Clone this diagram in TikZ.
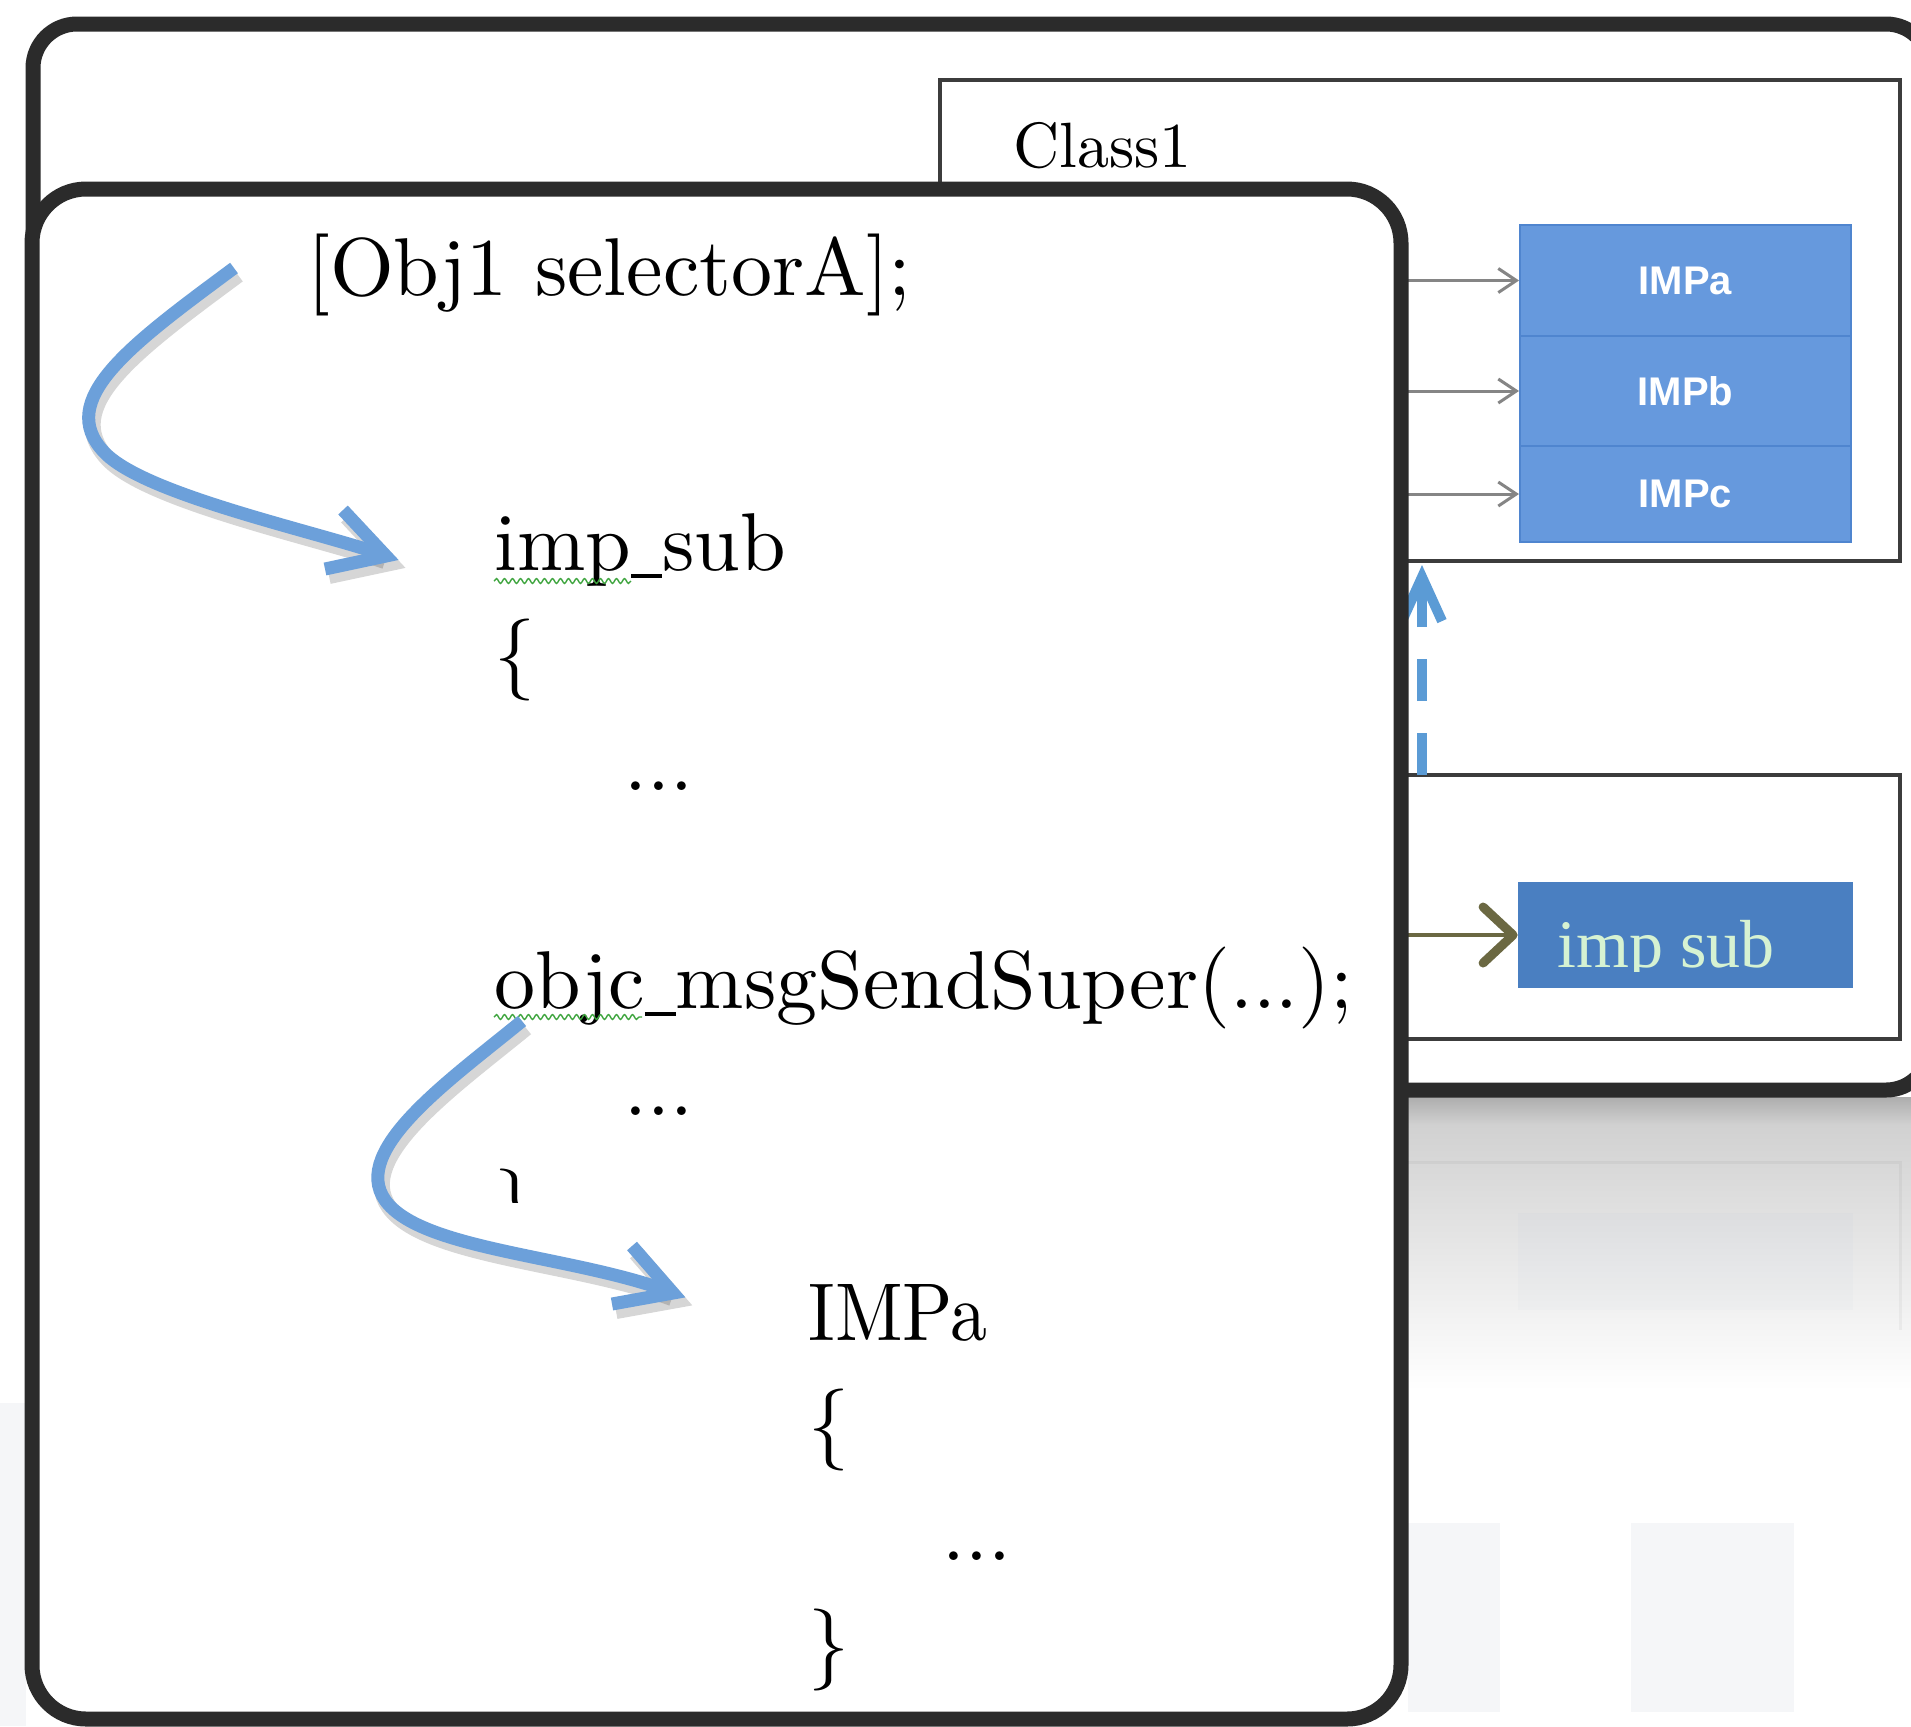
\documentclass[tikz,border=0pt]{standalone}
\usepackage{fontspec}
\newfontfamily\sansfam{Liberation Sans}
\newfontfamily\seriffam{Liberation Serif}
\newfontfamily\codefam{lmroman10-regular.otf}
\newfontfamily\codenarrow{lmroman10-regular.otf}[FakeStretch=0.9]
\newcommand\narrowus{\rule[-0.1em]{0.38em}{0.05em}}
\usetikzlibrary{arrows.meta,decorations.pathmorphing}
\definecolor{panelc}{HTML}{2B2B2B}
\definecolor{boxline}{HTML}{3C3C3C}
\definecolor{stackblue}{HTML}{6699DD}
\definecolor{stackline}{HTML}{4F85CF}
\definecolor{subblue}{HTML}{4A7FC1}
\definecolor{subtext}{HTML}{D6F2D2}
\definecolor{olivec}{HTML}{6B6842}
\definecolor{arrowblue}{HTML}{6CA0DA}
\definecolor{dashblue}{HTML}{5B9BD5}
\definecolor{grayarr}{HTML}{858585}
\definecolor{faintc}{HTML}{F5F6F8}
\definecolor{squigc}{HTML}{3FA53F}
\tikzset{
  panel/.style={draw=panelc, line width=7.5pt, fill=white},
  classbox/.style={draw=boxline, line width=1.75pt, fill=white, inner sep=0pt},
  rowbox/.style={fill=stackblue, draw=stackline, line width=1pt, text=white,
    font=\sansfam\bfseries\fontsize{20}{20}\selectfont, minimum width=165.5pt, inner sep=0pt},
  code/.style={anchor=base west, inner sep=0pt, font=\codefam\fontsize{41}{41}\selectfont},
  ptr/.style={draw=grayarr, line width=1.5pt, -{Straight Barb[length=9pt,width=12pt,line width=1.5pt]}},
  oliveptr/.style={draw=olivec, line width=1.75pt, -{Straight Barb[length=15pt,width=28pt,line width=4.5pt,round]}},
  superptr/.style={draw=dashblue, line width=5pt, dash pattern=on 21pt off 16pt,
    -{Straight Barb[length=22pt,width=20pt,line width=5pt]}},
  curarrow/.style={draw=arrowblue, line width=6.5pt},
  curshadow/.style={draw=black, opacity=0.16, line width=8pt},
  squig/.style={draw=squigc, line width=0.7pt, decorate, decoration={snake, amplitude=1.2pt, segment length=4pt}}
}
\begin{document}
\begin{tikzpicture}[x=0.5pt,y=-0.5pt]
\useasboundingbox (0,0) rectangle (1911,1726);
\begin{scope}
\clip (0,0) rectangle (1911,1726);
\fill[white] (0,0) rectangle (1911,1726);
% faint screenshot remnants
\fill[faintc] (0,1403) rectangle (26,1726);
\fill[faintc] (1408,1523) rectangle (1500,1712);
\fill[faintc] (1631,1523) rectangle (1794,1712);
% reflection under back panel
\shade[top color=black!32, bottom color=black!18] (1300,1097) rectangle (1911,1125);
\shade[top color=black!18, bottom color=white] (1300,1125) rectangle (1911,1390);
\draw[black, opacity=0.04, line width=1.5pt] (1300,1162) -- (1900,1162) -- (1900,1330);
\fill[subblue, opacity=0.025] (1518,1213) rectangle (1853,1310);
% back panel
\draw[panel, rounded corners=22pt] (33,24) rectangle (1930,1090);
% Class1 box
\node[classbox, minimum width=480pt, minimum height=240.5pt] (cls) at (1420,320.5) {};
\node[anchor=base west, inner sep=0pt, font=\codefam\fontsize{32}{32}\selectfont] (clsname) at (1013,167) {Class1};
% method stack
\node[rowbox, minimum height=55.5pt] (impa) at (1685.5,280.5) {IMPa};
\node[rowbox, minimum height=55pt] (impb) at (1685.5,391) {IMPb};
\node[rowbox, minimum height=48pt] (impc) at (1685.5,494) {IMPc};
\coordinate (pa) at (1395,280.5);
\coordinate (pb) at (1395,391);
\coordinate (pc) at (1395,494);
\draw[ptr] (pa) -- (impa.west);
\draw[ptr] (pb) -- (impb.west);
\draw[ptr] (pc) -- (impc.west);
% lower (superclass) box
\node[classbox, minimum width=300pt, minimum height=132pt] (subcls) at (1600,907) {};
\node[fill=subblue, minimum width=167.5pt, minimum height=53pt, inner sep=0pt] (impsub) at (1685.5,935) {};
\begin{scope}
\clip (1518,882) rectangle (1853,971);
\node[anchor=base west, inner sep=0pt, text=subtext, font=\seriffam\fontsize{34}{34}\selectfont] (impsubtxt) at (1557,967) {imp sub};
\end{scope}
\coordinate (po) at (1395,935);
\draw[oliveptr] (po) -- (impsub.west);
% dashed super pointer
\draw[superptr] (1422,775) -- (1422,565);
% front panel
\draw[panel, rounded corners=27pt] (32,189) rectangle (1401,1719);
% code text
\node[code] (sel) at (307,295) {[Obj1 selectorA];};
\node[code] (isub) at (494,570) {imp\narrowus sub};
\node[code] (br1) at (494,680) {\{};
\node[code] (dots1) at (624,790) {...};
\node[code] (msg) at (494,1008) {objc\narrowus msgSendSuper(...);};
\node[code] (dots2) at (624,1115) {...};
\begin{scope}
\clip (480,1150) rectangle (545,1202);
\node[code] (br2) at (494,1230) {\}};
\end{scope}
\node[code, font=\codenarrow\fontsize{41}{41}\selectfont] (impaf) at (808,1340) {IMPa};
\node[code] (br3) at (808,1450) {\{};
\node[code] (dots3) at (942,1560) {...};
\node[code] (br4) at (808,1670) {\}};
\draw[squig] (494,581) -- (631,581);
\draw[squig] (494,1017) -- (642,1017);
% curved blue arrows
\coordinate (a1s) at (234,268);
\coordinate (a1e) at (381,554);
\coordinate (a1t) at (386,556);
\coordinate (a1u) at (343,510);
\coordinate (a1l) at (325,569);
\coordinate (a2s) at (522,1021);
\coordinate (a2e) at (668,1291);
\coordinate (a2t) at (673,1293);
\coordinate (a2u) at (632,1246);
\coordinate (a2l) at (612,1304);
\begin{scope}[transform canvas={xshift=2pt,yshift=-3.5pt}]
\draw[curshadow] (a1s) .. controls (130,345) and (55,400) .. (104,452) .. controls (143,494) and (310,530) .. (a1e);
\draw[curshadow, line join=miter] (a1u) -- (a1t) -- (a1l);
\draw[curshadow] (a2s) .. controls (450,1080) and (350,1150) .. (385,1200) .. controls (420,1250) and (570,1255) .. (a2e);
\draw[curshadow, line join=miter] (a2u) -- (a2t) -- (a2l);
\end{scope}
\draw[curarrow] (a1s) .. controls (130,345) and (55,400) .. (104,452) .. controls (143,494) and (310,530) .. (a1e);
\draw[curarrow, line join=miter] (a1u) -- (a1t) -- (a1l);
\draw[curarrow] (a2s) .. controls (450,1080) and (350,1150) .. (385,1200) .. controls (420,1250) and (570,1255) .. (a2e);
\draw[curarrow, line join=miter] (a2u) -- (a2t) -- (a2l);
\end{scope}
\end{tikzpicture}
\end{document}
